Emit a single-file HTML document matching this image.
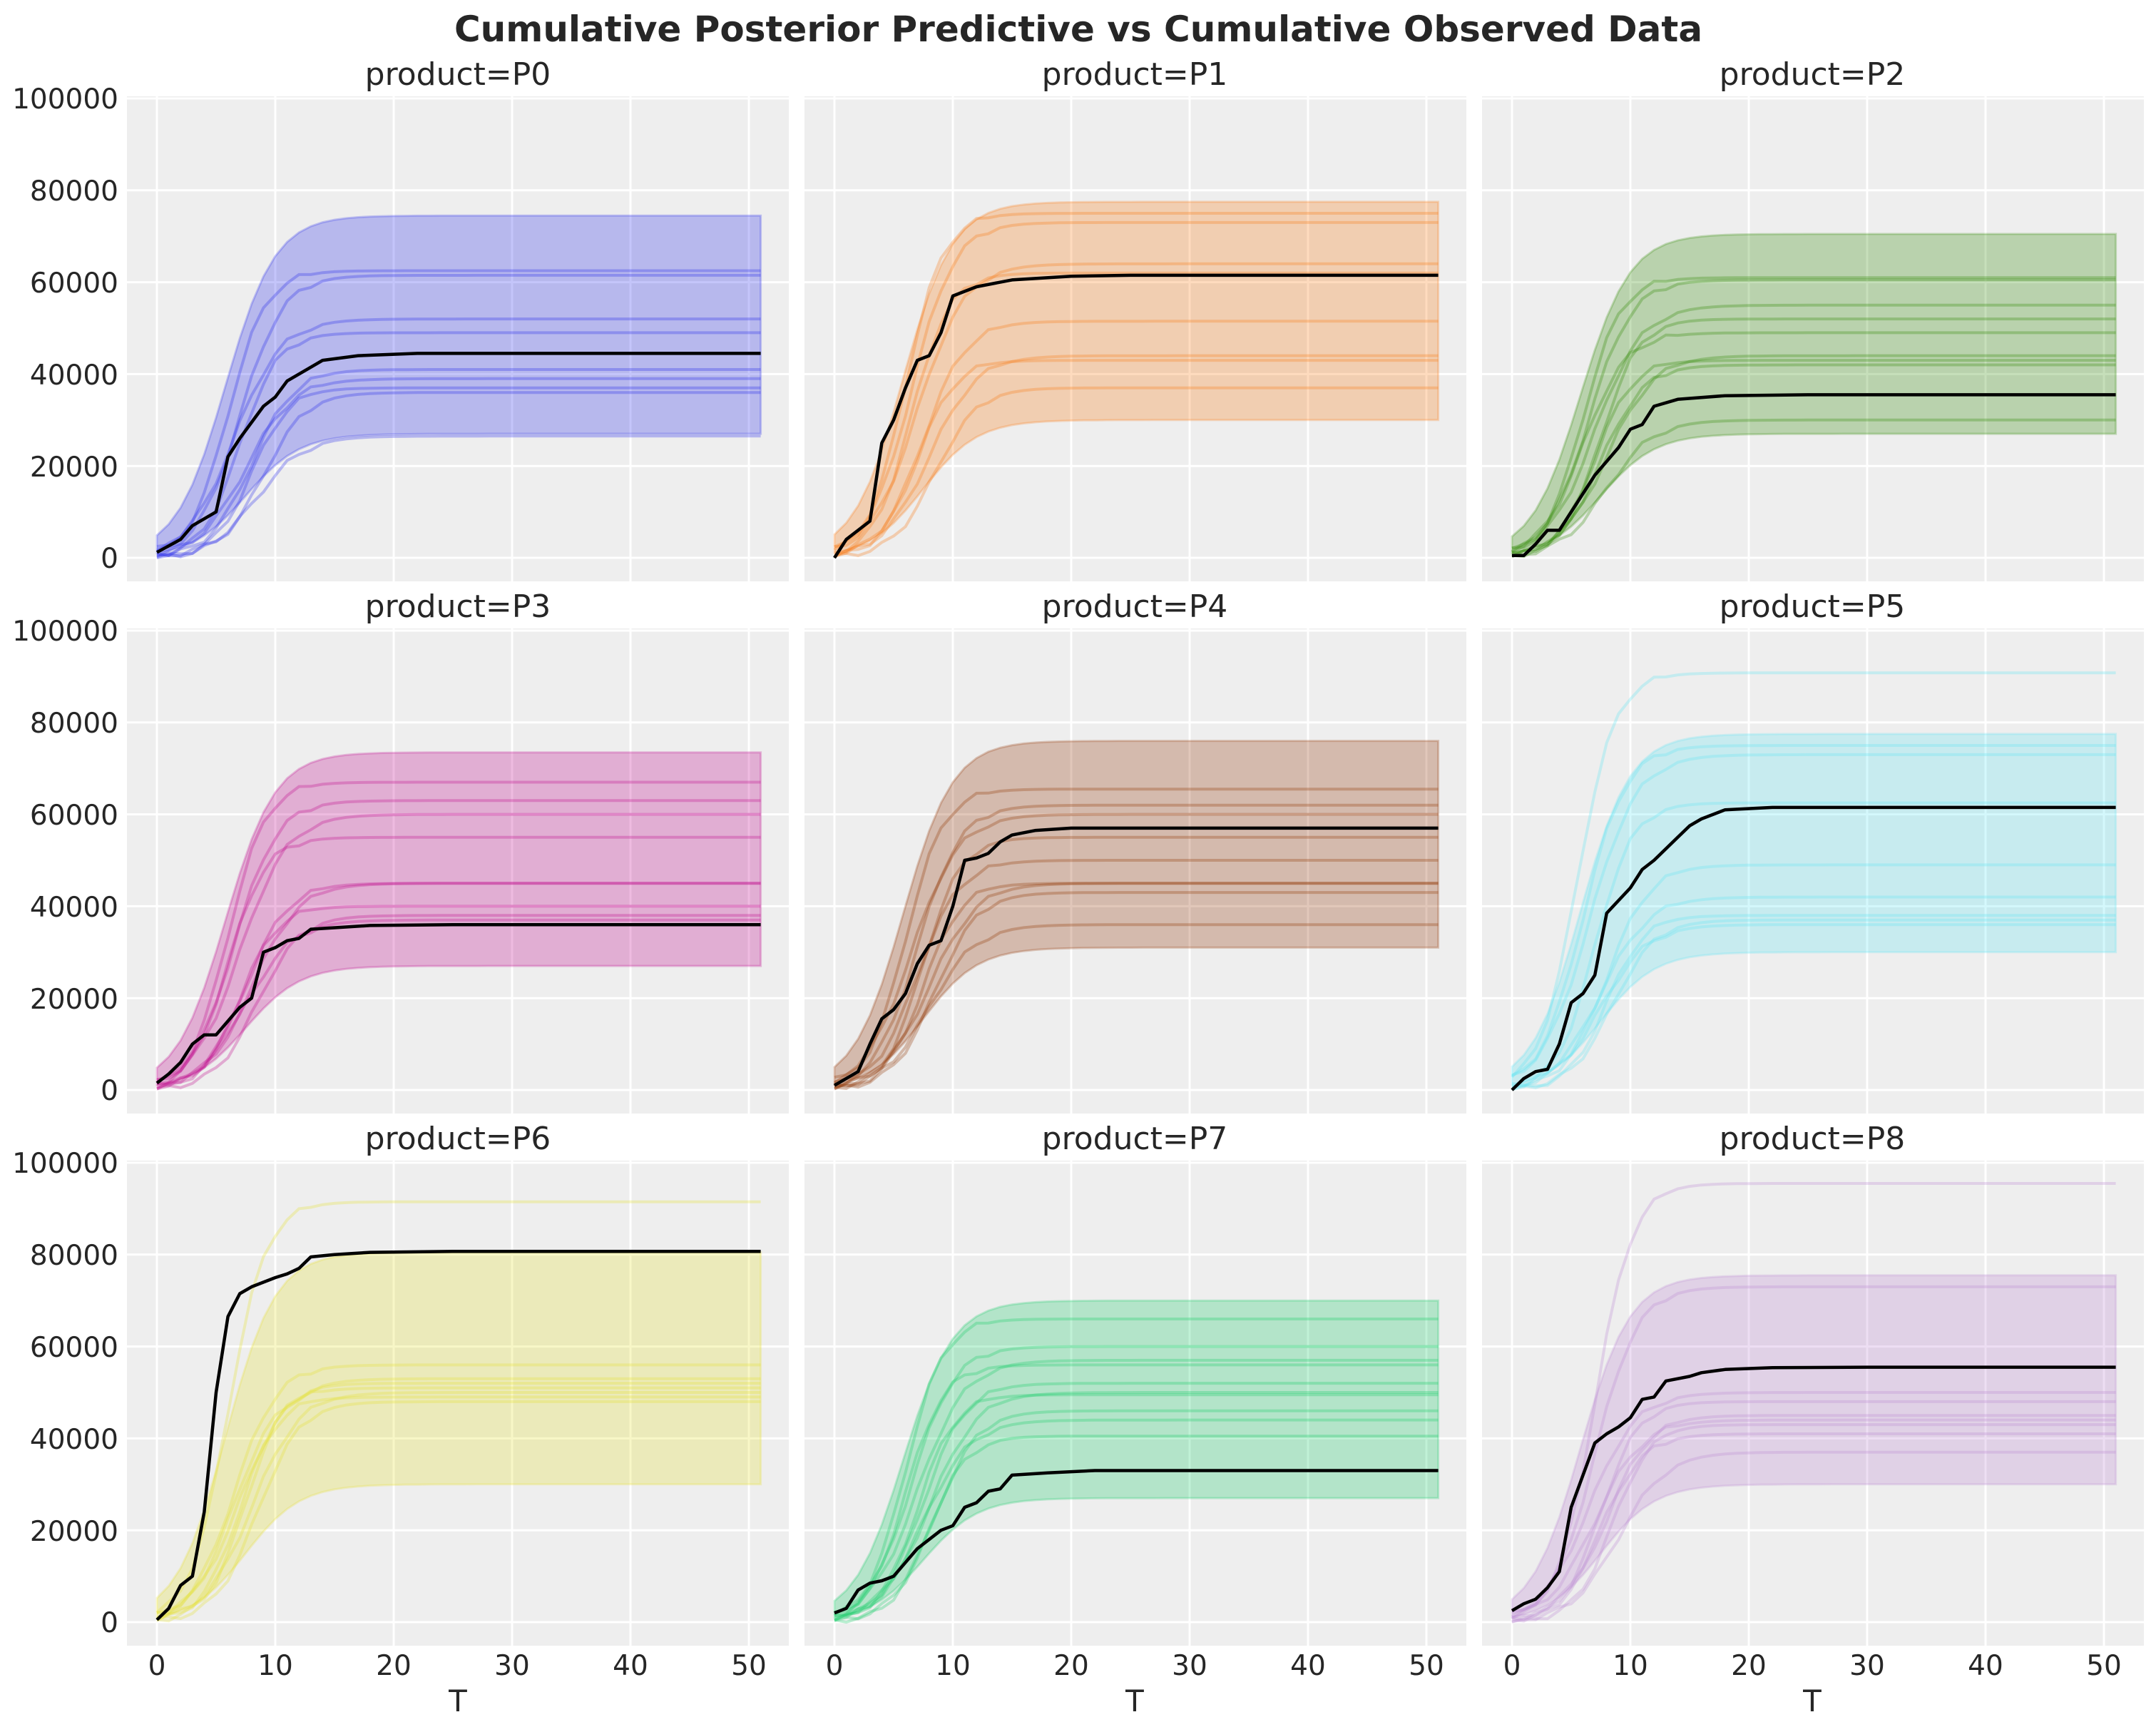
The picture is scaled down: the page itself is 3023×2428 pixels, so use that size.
<!DOCTYPE html>
<html><head><meta charset="utf-8"><style>
html,body{margin:0;padding:0;background:#fff;}
svg text{font-family:"DejaVu Sans","Liberation Sans",sans-serif;fill:#262626;}
</style></head><body>
<svg id="s" width="3023" height="2423" viewBox="0 0 3023 2423" xmlns="http://www.w3.org/2000/svg">
<rect width="3023" height="2423" fill="#fff"/>
<g id="panels"></g>
<text x="1512" y="58" font-size="50" font-weight="bold" text-anchor="middle">Cumulative Posterior Predictive vs Cumulative Observed Data</text>
<g font-size="44" text-anchor="middle">
<text x="642" y="119">product=P0</text><text x="1591" y="119">product=P1</text><text x="2541" y="119">product=P2</text>
<text x="642" y="865">product=P3</text><text x="1591" y="865">product=P4</text><text x="2541" y="865">product=P5</text>
<text x="642" y="1611">product=P6</text><text x="1591" y="1611">product=P7</text><text x="2541" y="1611">product=P8</text>
</g>
<g font-size="39" text-anchor="end">
<text x="166" y="152">100000</text><text x="166" y="281">80000</text><text x="166" y="410">60000</text><text x="166" y="539">40000</text><text x="166" y="668">20000</text><text x="166" y="796">0</text>
<text x="166" y="898">100000</text><text x="166" y="1027">80000</text><text x="166" y="1156">60000</text><text x="166" y="1285">40000</text><text x="166" y="1414">20000</text><text x="166" y="1542">0</text>
<text x="166" y="1644">100000</text><text x="166" y="1773">80000</text><text x="166" y="1902">60000</text><text x="166" y="2031">40000</text><text x="166" y="2160">20000</text><text x="166" y="2288">0</text>
</g>
<g font-size="39" text-anchor="middle">
<text x="220" y="2348">0</text><text x="386" y="2348">10</text><text x="552" y="2348">20</text><text x="718" y="2348">30</text><text x="884" y="2348">40</text><text x="1050" y="2348">50</text>
<text x="1170" y="2348">0</text><text x="1336" y="2348">10</text><text x="1502" y="2348">20</text><text x="1668" y="2348">30</text><text x="1834" y="2348">40</text><text x="2000" y="2348">50</text>
<text x="2120" y="2348">0</text><text x="2286" y="2348">10</text><text x="2452" y="2348">20</text><text x="2618" y="2348">30</text><text x="2784" y="2348">40</text><text x="2950" y="2348">50</text>
</g>
<g font-size="42" text-anchor="middle">
<text x="642" y="2399">T</text><text x="1591" y="2399">T</text><text x="2541" y="2399">T</text>
</g>
</svg>
<script>
var P=[
{c:'#2a2eec',lo:27,hi:74,L:[62.5,61.5,52,49,41,39,37,36,26.5],m:[6,7,6.5,7,8,7.5,8,9,8.5],b:[[0,1.2],[2,4],[3,7],[5,10],[6,22],[7,26],[9,33],[10,35],[11,38.5],[14,43],[17,44],[22,44.5]]},
{c:'#fa7c17',lo:30,hi:77,L:[75,73,64,62,51.5,44,43,37],m:[6,6.5,7,6.5,7.5,8,7,8.5],b:[[0,0],[1,4],[3,8],[4,25],[5,30],[6,37],[7,43],[8,44],[9,49],[10,57],[12,59],[15,60.5],[20,61.3],[25,61.5]]},
{c:'#328c06',lo:27,hi:70,L:[61,60.5,55,52,49,44,43,42,30],m:[6,6.5,7,7.5,6,8,7,7.5,8],b:[[0,0.5],[1,0.5],[2,3],[3,6],[4,6],[5,10],[7,18],[9,24],[10,28],[11,29],[12,33],[14,34.5],[18,35.3],[25,35.5]]},
{c:'#c10c90',lo:27,hi:73,L:[67,63,60,55,45,45,40,38,37],m:[6,6.5,7,6,7.5,8,7,8.5,7.5],b:[[0,1.5],[1,3.5],[2,6],[3,10],[4,12],[5,12],[7,18],[8,20],[9,30],[10,31],[11,32.5],[12,33],[13,35],[18,35.8],[25,36]]},
{c:'#933708',lo:31,hi:75.5,L:[65.5,62,60,55,50,45,45,43,36],m:[6,7,6.5,7.5,7,8,7.5,8.5,8],b:[[0,1],[2,4],[3,10],[4,15.5],[5,17.5],[6,21],[7,27.5],[8,31.5],[9,32.5],[10,40],[11,50],[12,50.5],[13,51.5],[14,54],[15,55.5],[17,56.5],[20,57],[30,57]]},
{c:'#65e5f3',lo:30,hi:77,L:[90.8,75,73,62.5,49,42,38,37,36],m:[5.5,6,6.5,7,8,7.5,8,8.5,7.5],b:[[0,0],[1,2.5],[2,4],[3,4.5],[4,10],[5,19],[6,21],[7,25],[8,38.5],[10,44],[11,48],[12,50],[14,55],[15,57.5],[16,59],[17,60],[18,61],[22,61.5]]},
{c:'#e6e135',lo:30,hi:80,L:[91.5,56,53,52,51,50,49,48],m:[6,6.5,7,7.5,6.5,8,7,8.5],b:[[0,0.5],[1,3],[2,8],[3,10],[4,24],[5,50],[6,66.5],[7,71.5],[8,73],[10,75],[11,75.8],[12,77],[13,79.5],[15,80],[18,80.5],[25,80.7]]},
{c:'#1ccd6a',lo:27,hi:69.5,L:[66,60,57,56,52,50,49.5,46,44,40.5],m:[6,6.5,7,6,7.5,8,7,8.5,7.5,8],b:[[0,2],[1,3],[2,7],[3,8.5],[4,9],[5,10],[6,13],[7,16],[9,20],[10,21],[11,25],[12,26],[13,28.5],[14,29],[15,32],[18,32.5],[22,33],[30,33]]},
{c:'#bd8ad5',lo:30,hi:75,L:[95.5,73,50,48,45,44,43,41,37],m:[7,7,6.5,7.5,8,7,8.5,7.5,9],b:[[0,2.5],[1,4],[2,5],[3,7.5],[4,11],[5,25],[6,32],[7,39],[8,41],[9,42.5],[10,44.5],[11,48.5],[12,49],[13,52.5],[15,53.5],[16,54.3],[18,55],[22,55.4],[30,55.5]]}
];
var NS='http://www.w3.org/2000/svg',G=document.getElementById('panels');
function el(t,a){var e=document.createElementNS(NS,t);for(var k in a)e.setAttribute(k,a[k]);G.appendChild(e);return e;}
function lg(t,m,s){return 1/(1+Math.exp(-(t-m)/s));}
for(var i=0;i<9;i++){
 var col=i%3,row=Math.floor(i/3),L0=178+950*col,T0=135+746*row,W=928,H=680;
 var x0=L0+42,y0=T0+647,ky=644/100,kx=16.6;
 function X(t){return (x0+t*kx).toFixed(1);} function Y(v){return (y0-v*ky).toFixed(1);}
 el('rect',{x:L0,y:T0,width:W,height:H,fill:'#eeeeee'});
 for(var g=0;g<=5;g++){el('line',{x1:L0,x2:L0+W,y1:Y(g*20),y2:Y(g*20),stroke:'#fff','stroke-width':3});
  el('line',{x1:X(g*10),x2:X(g*10),y1:T0,y2:T0+H,stroke:'#fff','stroke-width':3});}
 var p=P[i],up=[],dn=[];
 for(var t=0;t<=51;t++){up.push(X(t)+','+Y(p.hi*lg(t,5.8,2.1)+0.5));dn.push(X(t)+','+Y(p.lo*lg(t,7.5,2.3)));}
 el('polygon',{points:up.concat(dn.reverse()).join(' '),fill:p.c,'fill-opacity':0.28,stroke:p.c,'stroke-opacity':0.25,'stroke-width':3});
 for(var j=0;j<p.L.length;j++){var pts=[];
  for(var t=0;t<=51;t++){var v=p.L[j]*lg(t,p.m[j],1.6+0.2*(j%3));v+=Math.sin(t*1.7+j)*0.6*(t<14?1:0);pts.push(X(t)+','+Y(Math.max(0,v)));}
  el('polyline',{points:pts.join(' '),fill:'none',stroke:p.c,'stroke-opacity':0.3,'stroke-width':4});}
 var b=p.b.slice();b.push([51,b[b.length-1][1]]);
 el('polyline',{points:b.map(function(q){return X(q[0])+','+Y(q[1]);}).join(' '),fill:'none',stroke:'#000','stroke-width':4.5,'stroke-linejoin':'round'});
}
</script>
</body></html>
